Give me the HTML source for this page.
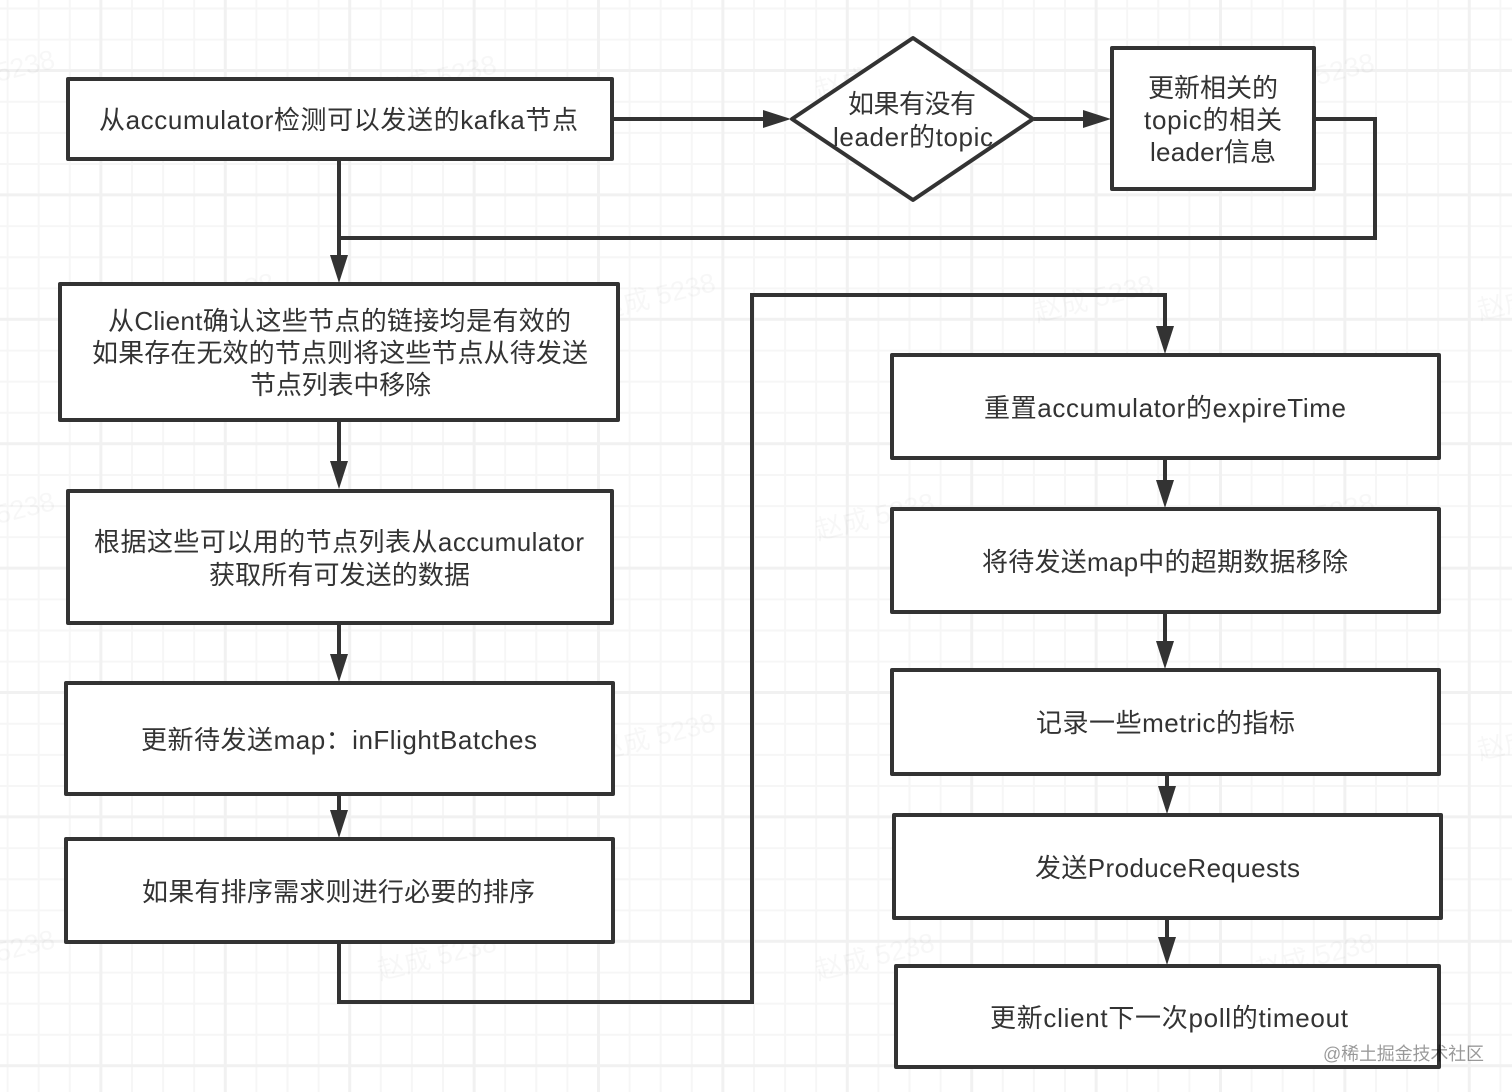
<!DOCTYPE html>
<html><head><meta charset="utf-8"><style>
html,body{margin:0;padding:0;background:#fff}
svg{display:block}
text{font-family:"Liberation Sans","Noto Sans CJK SC",sans-serif;font-size:26px;fill:#333;text-anchor:middle;filter:blur(.25px)}
text.w{font-size:27px;fill:#000;fill-opacity:.032;text-anchor:start;filter:none}
.b{fill:#fff;stroke:#333;stroke-width:4;stroke-linejoin:round}
.l{fill:none;stroke:#333;stroke-width:4}
.a{fill:#333}
</style></head><body>
<svg width="1512" height="1092" viewBox="0 0 1512 1092" xmlns="http://www.w3.org/2000/svg">
<rect width="1512" height="1092" fill="#fff"/>
<defs>
<pattern id="m" width="31.1" height="31.1" patternUnits="userSpaceOnUse" x="6.6" y="7.5"><path d="M1 0V31.1M0 1H31.1" fill="none" stroke="#f6f6f6" stroke-width="2"/></pattern>
<pattern id="M" width="124.4" height="124.4" patternUnits="userSpaceOnUse" x="-25" y="69"><path d="M1.5 0V124.4M0 1.5H124.4" fill="none" stroke="#f1f1f1" stroke-width="3"/></pattern>
</defs>
<rect width="1512" height="1092" fill="url(#m)"/>
<rect width="1512" height="1092" fill="url(#M)"/>
<g>
<text class="w" transform="translate(-2,82) rotate(-14)">5238</text>
<text class="w" transform="translate(380,102) rotate(-14)">赵成 5238</text>
<text class="w" transform="translate(818,100) rotate(-14)">赵成 5238</text>
<text class="w" transform="translate(1258,100) rotate(-14)">赵成 5238</text>
<text class="w" transform="translate(158,320) rotate(-14)">赵成 5238</text>
<text class="w" transform="translate(599,320) rotate(-14)">赵成 5238</text>
<text class="w" transform="translate(1037,322) rotate(-14)">赵成 5238</text>
<text class="w" transform="translate(1480,320) rotate(-14)">赵成 5238</text>
<text class="w" transform="translate(-2,524) rotate(-14)">5238</text>
<text class="w" transform="translate(380,540) rotate(-14)">赵成 5238</text>
<text class="w" transform="translate(818,540) rotate(-14)">赵成 5238</text>
<text class="w" transform="translate(1258,540) rotate(-14)">赵成 5238</text>
<text class="w" transform="translate(158,760) rotate(-14)">赵成 5238</text>
<text class="w" transform="translate(599,760) rotate(-14)">赵成 5238</text>
<text class="w" transform="translate(1037,760) rotate(-14)">赵成 5238</text>
<text class="w" transform="translate(1480,760) rotate(-14)">赵成 5238</text>
<text class="w" transform="translate(-2,962) rotate(-14)">5238</text>
<text class="w" transform="translate(380,980) rotate(-14)">赵成 5238</text>
<text class="w" transform="translate(818,980) rotate(-14)">赵成 5238</text>
<text class="w" transform="translate(1258,980) rotate(-14)">赵成 5238</text>
</g>

<!-- connectors -->
<path class="l" d="M613 119H770"/>
<polygon class="a" points="763,110 791,119 763,128"/>
<path class="l" d="M1034 119H1090"/>
<polygon class="a" points="1083,110 1111,119 1083,128"/>
<path class="l" d="M1315 119H1375V238H339"/>
<path class="l" d="M339 160V262"/>
<polygon class="a" points="330,255 339,283 348,255"/>
<path class="l" d="M339 420V468"/>
<polygon class="a" points="330,461 339,489 348,461"/>
<path class="l" d="M339 624V661"/>
<polygon class="a" points="330,654 339,682 348,654"/>
<path class="l" d="M339 795V817"/>
<polygon class="a" points="330,810 339,838 348,810"/>
<path class="l" d="M339 943V1002H752V295H1165V332"/>
<polygon class="a" points="1156,326 1165,354 1174,326"/>
<path class="l" d="M1165 459V487"/>
<polygon class="a" points="1156,480 1165,508 1174,480"/>
<path class="l" d="M1165 613V648"/>
<polygon class="a" points="1156,641 1165,669 1174,641"/>
<path class="l" d="M1167 775V793"/>
<polygon class="a" points="1158,786 1167,814 1176,786"/>
<path class="l" d="M1167 919V944"/>
<polygon class="a" points="1158,937 1167,965 1176,937"/>

<!-- nodes -->
<rect class="b" x="68" y="79" width="544" height="80"/>
<text x="338.5" y="129" textLength="479">从accumulator检测可以发送的kafka节点</text>
<polygon class="b" points="913,38 1033,119 913,200 792,119"/>
<text x="912" y="113" textLength="128">如果有没有</text>
<text x="913" y="146" textLength="160">leader的topic</text>
<rect class="b" x="1112" y="48" width="202" height="141"/>
<text x="1213" y="97" textLength="130">更新相关的</text>
<text x="1213" y="129" textLength="138">topic的相关</text>
<text x="1213" y="161" textLength="126">leader信息</text>
<rect class="b" x="60" y="284" width="558" height="136"/>
<text x="339.5" y="330" textLength="463">从Client确认这些节点的链接均是有效的</text>
<text x="340" y="362" textLength="496">如果存在无效的节点则将这些节点从待发送</text>
<text x="340.5" y="394" textLength="181">节点列表中移除</text>
<rect class="b" x="68" y="491" width="544" height="132"/>
<text x="339" y="551" textLength="490">根据这些可以用的节点列表从accumulator</text>
<text x="339.5" y="584" textLength="261">获取所有可发送的数据</text>
<rect class="b" x="66" y="683" width="547" height="111"/>
<text x="339" y="749" textLength="396">更新待发送map：inFlightBatches</text>
<rect class="b" x="66" y="839" width="547" height="103"/>
<text x="338.5" y="901" textLength="393">如果有排序需求则进行必要的排序</text>
<rect class="b" x="892" y="355" width="547" height="103"/>
<text x="1165" y="417" textLength="362">重置accumulator的expireTime</text>
<rect class="b" x="892" y="509" width="547" height="103"/>
<text x="1165" y="571" textLength="366">将待发送map中的超期数据移除</text>
<rect class="b" x="892" y="670" width="547" height="104"/>
<text x="1165.5" y="732" textLength="259">记录一些metric的指标</text>
<rect class="b" x="894" y="815" width="547" height="103"/>
<text x="1167.5" y="877" textLength="265">发送ProduceRequests</text>
<rect class="b" x="896" y="966" width="543" height="101"/>
<text x="1169" y="1027" textLength="358">更新client下一次poll的timeout</text>

<text x="1403.5" y="1060" textLength="161" style="font-size:18px;fill:#000;fill-opacity:.4">@稀土掘金技术社区</text>
</svg>
</body></html>
